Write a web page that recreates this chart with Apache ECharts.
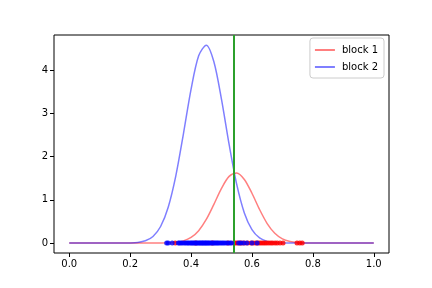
<!DOCTYPE html>
<html>
<head>
<meta charset="utf-8">
<script src="https://cdn.jsdelivr.net/npm/echarts@6/dist/echarts.min.js"></script>
<style>
  html, body { margin: 0; padding: 0; background: #fff; }
  #chart { width: 432px; height: 288px; }
</style>
</head>
<body>
<div id="chart"></div>
<script>
// density curves, sampled every 0.025 along x
const xs = [0, 0.025, 0.05, 0.075, 0.1, 0.125, 0.15, 0.175, 0.2, 0.225,
  0.25, 0.275, 0.3, 0.325, 0.35, 0.375, 0.4, 0.425, 0.45, 0.475,
  0.5, 0.525, 0.55, 0.575, 0.6, 0.625, 0.65, 0.675, 0.7, 0.725,
  0.75, 0.775, 0.8, 0.825, 0.85, 0.875, 0.9, 0.925, 0.95, 0.975, 1];
const block1 = [0, 0, 0, 0, 0, 0, 0, 0, 0, 0,
  0, 0, 0.001, 0.005, 0.017, 0.051, 0.130, 0.287, 0.546, 0.895,
  1.265, 1.542, 1.622, 1.471, 1.151, 0.776, 0.452, 0.227, 0.098, 0.037,
  0.012, 0.003, 0, 0, 0, 0, 0, 0, 0, 0, 0];
const block2 = [0, 0, 0, 0, 0, 0, 0, 0.001, 0.004, 0.016,
  0.053, 0.153, 0.383, 0.830, 1.555, 2.526, 3.554, 4.33, 4.575, 4.19,
  3.32, 2.28, 1.355, 0.698, 0.312, 0.12, 0.040, 0.012, 0.003, 0,
  0, 0, 0, 0, 0, 0, 0, 0, 0, 0, 0];

// samples drawn along y = 0
const points1 = [0.348, 0.415, 0.470, 0.521, 0.541, 0.546, 0.552, 0.560, 0.566,
  0.575, 0.586, 0.597, 0.604, 0.612, 0.618, 0.624, 0.630, 0.636, 0.642,
  0.648, 0.655, 0.662, 0.668, 0.676, 0.683, 0.692, 0.702, 0.748, 0.757, 0.765];
const points2 = [0.320, 0.325, 0.338, 0.358, 0.362, 0.367, 0.372, 0.378, 0.383, 0.388,
  0.392, 0.397, 0.401, 0.405, 0.409, 0.413, 0.417, 0.420, 0.424, 0.428,
  0.431, 0.435, 0.438, 0.441, 0.445, 0.448, 0.451, 0.455, 0.458, 0.462,
  0.466, 0.470, 0.474, 0.478, 0.482, 0.486, 0.490, 0.495, 0.500, 0.505,
  0.510, 0.516, 0.522, 0.528, 0.533, 0.556, 0.563, 0.572, 0.583, 0.600, 0.617];

const threshold = 0.54;
const xTicks = [0, 0.2, 0.4, 0.6, 0.8, 1.0];
const yTicks = [0, 1, 2, 3, 4];

const red = 'rgba(255, 0, 0, 0.5)';
const blue = 'rgba(0, 0, 255, 0.5)';
const font = 'DejaVu Sans';

const chart = echarts.init(document.getElementById('chart'));

chart.setOption({
  animation: false,
  backgroundColor: '#fff',
  grid: {
    left: 54, right: 43, top: 35, bottom: 35,
    show: true, borderColor: '#000', borderWidth: 1, backgroundColor: 'transparent'
  },
  legend: {
    data: ['block 1', 'block 2'],
    orient: 'vertical',
    right: 48, top: 38,
    icon: 'rect', itemWidth: 20, itemHeight: 2, itemGap: 7,
    padding: [7, 6, 6, 5],
    borderColor: '#cccccc', borderWidth: 1, borderRadius: 3,
    textStyle: { fontFamily: font, fontSize: 10, color: '#000', padding: [0, 0, 0, 2] }
  },
  xAxis: {
    type: 'value', min: -0.05, max: 1.05,
    splitLine: { show: false },
    axisLine: { show: false, onZero: false },
    axisTick: { show: true, length: 4, lineStyle: { color: '#000' }, customValues: xTicks },
    axisLabel: {
      customValues: xTicks, margin: 6,
      fontFamily: font, fontSize: 10, color: '#000',
      formatter: (v) => v.toFixed(1)
    }
  },
  yAxis: {
    type: 'value', min: -0.229, max: 4.809,
    splitLine: { show: false },
    axisLine: { show: false, onZero: false },
    axisTick: { show: true, length: 4, lineStyle: { color: '#000' }, customValues: yTicks },
    axisLabel: {
      customValues: yTicks, margin: 6,
      fontFamily: font, fontSize: 10, color: '#000'
    }
  },
  series: [
    {
      name: 'block 1', type: 'line', smooth: 0.3, symbol: 'none',
      data: xs.map((x, i) => [x, block1[i]]),
      itemStyle: { color: red },
      lineStyle: { color: red, width: 1.5 }, z: 2
    },
    {
      name: 'block 2', type: 'line', smooth: 0.3, symbol: 'none',
      data: xs.map((x, i) => [x, block2[i]]),
      itemStyle: { color: blue },
      lineStyle: { color: blue, width: 1.5 }, z: 3
    },
    {
      name: 'samples 1', type: 'scatter', symbolSize: 5,
      data: points1.map((x) => [x, 0]),
      itemStyle: { color: '#ff0000' }, z: 4
    },
    {
      name: 'samples 2', type: 'scatter', symbolSize: 5,
      data: points2.map((x) => [x, 0]),
      itemStyle: { color: '#0000ff' }, z: 5,
      markLine: {
        silent: true, symbol: 'none', animation: false,
        label: { show: false },
        lineStyle: { color: '#2ca02c', width: 2, type: 'solid' },
        data: [{ xAxis: threshold }]
      }
    }
  ]
});
</script>
</body>
</html>
